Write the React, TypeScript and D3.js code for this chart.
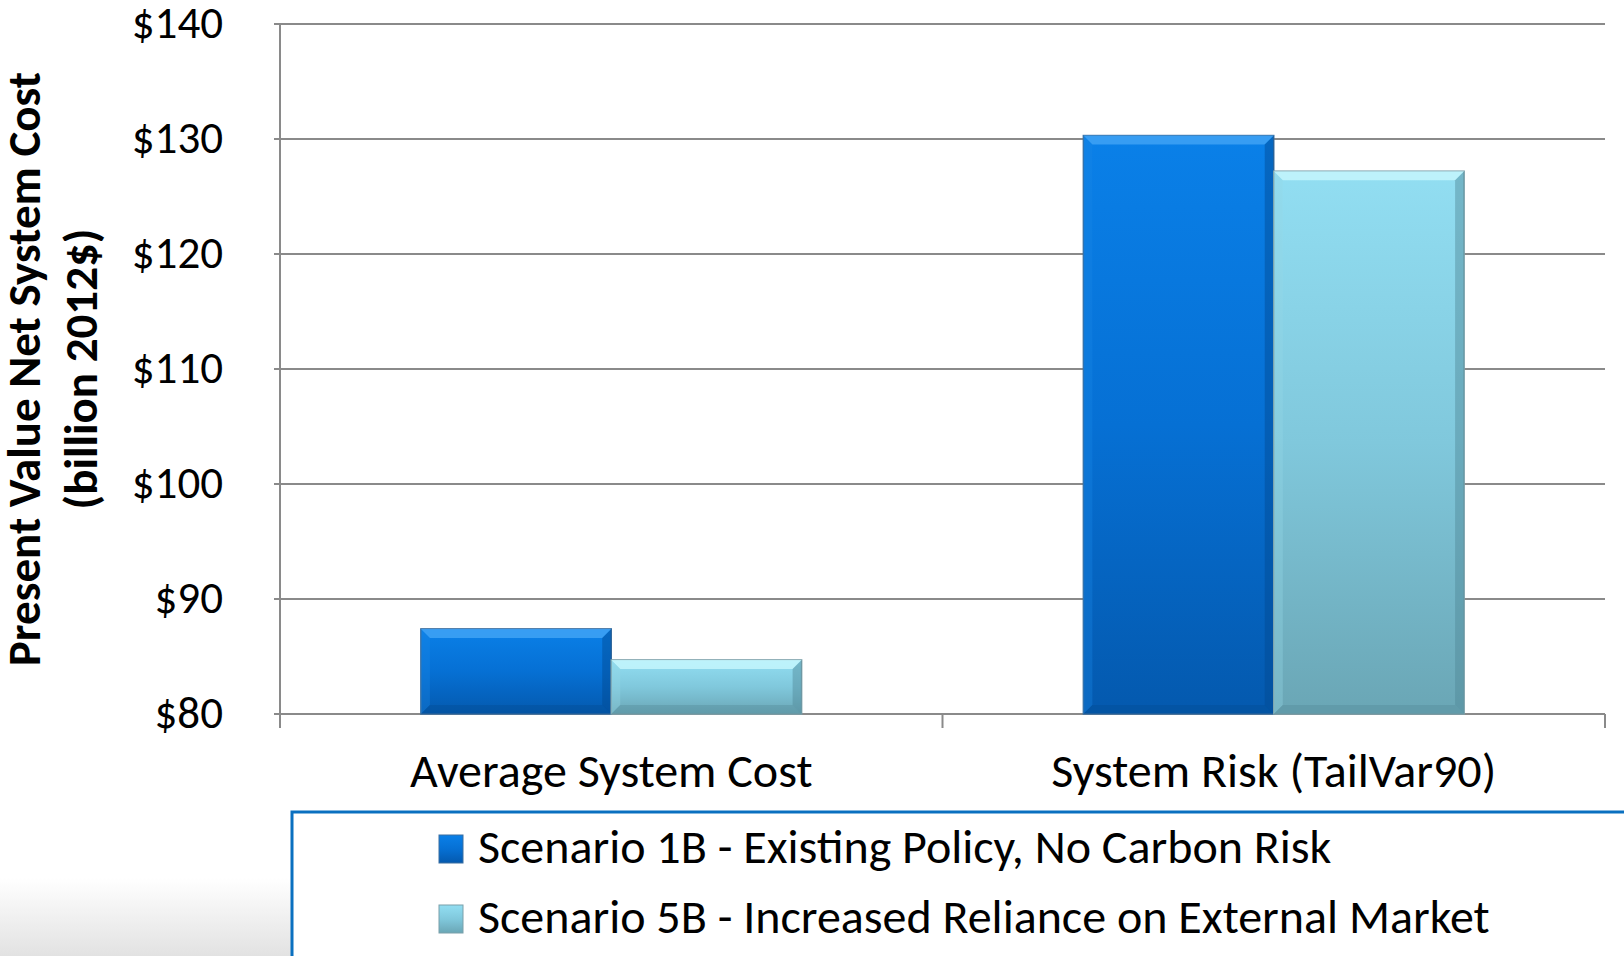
import React, { useEffect, useRef } from "react";
import * as d3 from "d3";

const categories = ["Average System Cost", "System Risk (TailVar90)"];
const seriesNames = [
  "Scenario 1B - Existing Policy, No Carbon Risk",
  "Scenario 5B - Increased Reliance on External Market",
];
const scenario1B = [87.4, 130.3];
const scenario5B = [84.7, 127.2];
const yTicks = [80, 90, 100, 110, 120, 130, 140];

const FONT = "Carlito, Calibri, Lato, 'Open Sans', sans-serif";

const App: React.FC = () => {
  const svgRef = useRef<SVGSVGElement | null>(null);

  useEffect(() => {
    if (!svgRef.current) return;
    const svg = d3.select(svgRef.current);
    svg.selectAll("*").remove();

    const width = 1624;
    const height = 956;
    const plot = { left: 280, right: 1605, top: 24, bottom: 714 };

    svg.attr("width", width).attr("height", height);

    const defs = svg.append("defs");
    const grad = (id: string, stops: [number, string][]) => {
      const g = defs
        .append("linearGradient")
        .attr("id", id)
        .attr("x1", "0")
        .attr("y1", "0")
        .attr("x2", "0")
        .attr("y2", "1");
      stops.forEach(([o, c]) =>
        g.append("stop").attr("offset", o).attr("stop-color", c)
      );
    };
    grad("g0", [
      [0, "#0a80e8"],
      [0.5, "#0670d4"],
      [1, "#0459ae"],
    ]);
    grad("g1", [
      [0, "#92def2"],
      [0.5, "#80c8dc"],
      [1, "#6aa6b5"],
    ]);
    grad("bg", [
      [0, "#ffffff"],
      [1, "#e2e2e2"],
    ]);

    svg
      .append("rect")
      .attr("width", width)
      .attr("height", height)
      .attr("fill", "#ffffff");
    svg
      .append("rect")
      .attr("x", 0)
      .attr("y", 878)
      .attr("width", 300)
      .attr("height", 78)
      .attr("fill", "url(#bg)");

    const y = d3.scaleLinear().domain([80, 140]).range([plot.bottom, plot.top]);
    const x0 = d3
      .scaleBand<string>()
      .domain(categories)
      .range([plot.left, plot.right])
      .padding(0);
    const x1 = d3
      .scaleBand<string>()
      .domain(seriesNames)
      .range([0, x0.bandwidth()])
      .paddingInner(0)
      .paddingOuter(0.74);

    // gridlines
    svg
      .append("g")
      .selectAll("line")
      .data(yTicks)
      .enter()
      .append("line")
      .attr("x1", plot.left - 6)
      .attr("x2", plot.right)
      .attr("y1", (d) => y(d))
      .attr("y2", (d) => y(d))
      .attr("stroke", "#8a8a8a")
      .attr("stroke-width", 2);

    // y axis line
    svg
      .append("line")
      .attr("x1", plot.left)
      .attr("x2", plot.left)
      .attr("y1", plot.top)
      .attr("y2", plot.bottom + 14)
      .attr("stroke", "#8a8a8a")
      .attr("stroke-width", 2);

    // category ticks
    const boundaries = [plot.left + x0.bandwidth(), plot.right];
    svg
      .append("g")
      .selectAll("line")
      .data(boundaries)
      .enter()
      .append("line")
      .attr("x1", (d) => d)
      .attr("x2", (d) => d)
      .attr("y1", plot.bottom)
      .attr("y2", plot.bottom + 14)
      .attr("stroke", "#8a8a8a")
      .attr("stroke-width", 2);

    // y labels
    svg
      .append("g")
      .selectAll("text")
      .data(yTicks)
      .enter()
      .append("text")
      .attr("x", 223)
      .attr("y", (d) => y(d) + 14)
      .attr("text-anchor", "end")
      .attr("font-family", FONT)
      .attr("font-size", 45)
      .attr("fill", "#000")
      .text((d) => `$${d}`);

    // x labels
    svg
      .append("g")
      .selectAll("text")
      .data(categories)
      .enter()
      .append("text")
      .attr("x", (d) => x0(d)! + x0.bandwidth() / 2)
      .attr("y", 787)
      .attr("text-anchor", "middle")
      .attr("font-family", FONT)
      .attr("font-size", 48)
      .attr("fill", "#000")
      .text((d) => d);

    // y title
    const title = svg
      .append("text")
      .attr("transform", "translate(40,369) rotate(-90)")
      .attr("text-anchor", "middle")
      .attr("font-family", FONT)
      .attr("font-weight", "bold")
      .attr("font-size", 47)
      .attr("fill", "#000");
    title.append("tspan").attr("x", 0).attr("y", 0).text("Present Value Net System Cost");
    title.append("tspan").attr("x", 0).attr("y", 57).text("(billion 2012$)");

    // bars
    const seriesValues = [scenario1B, scenario5B];
    const bev = 9;
    seriesValues.forEach((vals, si) => {
      const name = seriesNames[si];
      const g = svg.append("g");
      vals.forEach((v, ci) => {
        const bx = x0(categories[ci])! + x1(name)!;
        const bw = x1.bandwidth();
        const by = y(v);
        const bh = y(80) - by;
        g.append("rect")
          .attr("x", bx)
          .attr("y", by)
          .attr("width", bw)
          .attr("height", bh)
          .attr("fill", `url(#g${si})`)
          .attr("stroke", si === 0 ? "#3a6ea0" : "#7aa0aa")
          .attr("stroke-width", 1.5);
        g.append("polygon")
          .attr(
            "points",
            `${bx},${by} ${bx + bw},${by} ${bx + bw - bev},${by + bev} ${bx + bev},${by + bev}`
          )
          .attr("fill", si === 0 ? "#3fa2f5" : "#c4f6fd")
          .attr("opacity", 0.85);
        g.append("polygon")
          .attr(
            "points",
            `${bx},${by} ${bx + bev},${by + bev} ${bx + bev},${by + bh - bev} ${bx},${by + bh}`
          )
          .attr("fill", si === 0 ? "#1a86e6" : "#96d6e6")
          .attr("opacity", 0.35);
        g.append("polygon")
          .attr(
            "points",
            `${bx + bw},${by} ${bx + bw - bev},${by + bev} ${bx + bw - bev},${by + bh - bev} ${bx + bw},${by + bh}`
          )
          .attr("fill", si === 0 ? "#034a90" : "#4f8796")
          .attr("opacity", 0.45);
        g.append("polygon")
          .attr(
            "points",
            `${bx},${by + bh} ${bx + bev},${by + bh - bev} ${bx + bw - bev},${by + bh - bev} ${bx + bw},${by + bh}`
          )
          .attr("fill", si === 0 ? "#034a90" : "#4f8796")
          .attr("opacity", 0.35);
      });
    });

    // legend
    const lg = svg.append("g");
    lg.append("rect")
      .attr("x", 292)
      .attr("y", 812)
      .attr("width", 1400)
      .attr("height", 200)
      .attr("fill", "#fff")
      .attr("stroke", "#0a70c0")
      .attr("stroke-width", 3);
    seriesNames.forEach((name, i) => {
      const ly = 848 + i * 70;
      lg.append("rect")
        .attr("x", 439)
        .attr("y", ly - 13)
        .attr("width", 24)
        .attr("height", 28)
        .attr("fill", `url(#g${i})`)
        .attr("stroke", i === 0 ? "#3a6ea0" : "#7aa0aa")
        .attr("stroke-width", 1);
      lg.append("text")
        .attr("x", 478)
        .attr("y", ly + 15)
        .attr("font-family", FONT)
        .attr("font-size", 48)
        .attr("fill", "#000")
        .text(name);
    });
  }, []);

  return (
    <svg
      ref={svgRef}
      style={{ position: "absolute", left: 0, top: 0, display: "block" }}
    ></svg>
  );
};

export default App;
